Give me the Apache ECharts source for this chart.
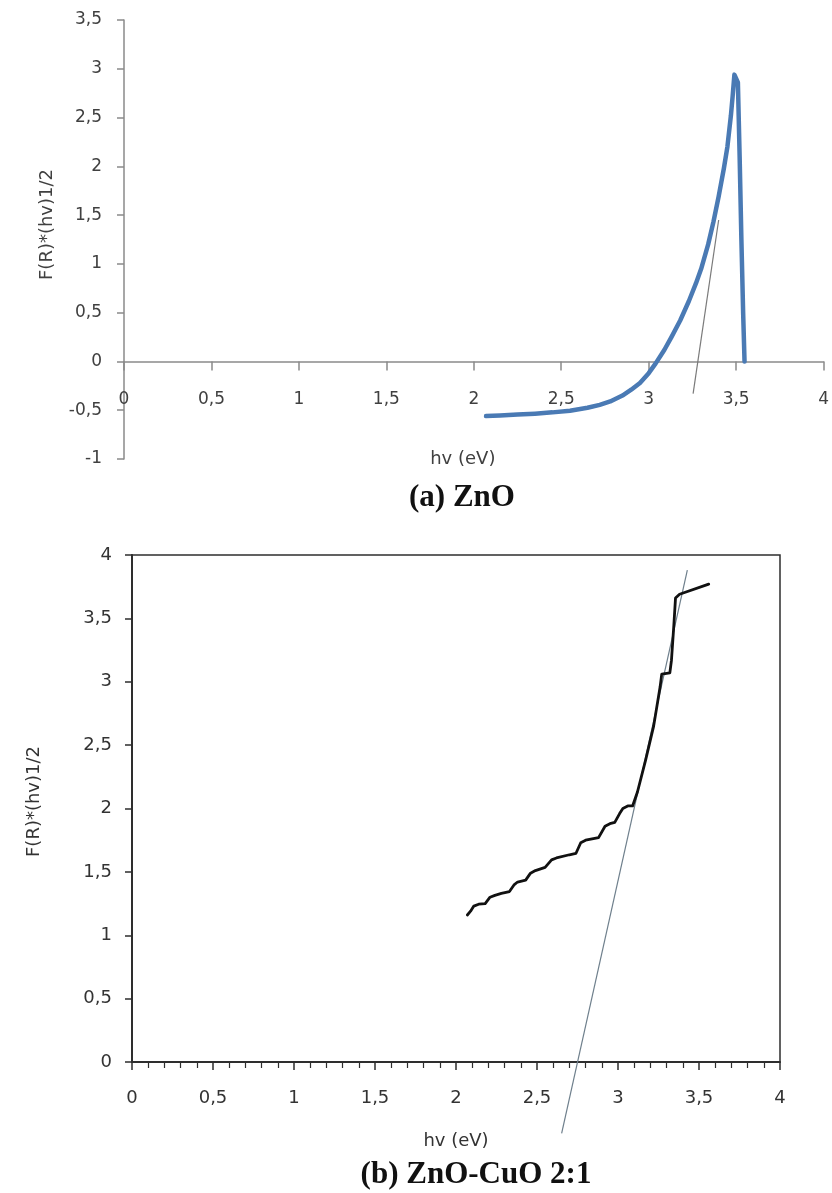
<!DOCTYPE html>
<html>
<head>
<meta charset="utf-8">
<script src="https://cdn.jsdelivr.net/npm/echarts@6.0.0/dist/echarts.min.js"></script>
<style>
html,body{margin:0;padding:0;background:#fff;}
#chart{width:832px;height:1193px;}
</style>
</head>
<body>
<div id="chart"></div>
<script>
// ---- Data: (a) ZnO ----
const znoX = [2.07, 2.15, 2.25, 2.35, 2.45, 2.55, 2.65, 2.72, 2.78, 2.85, 2.90, 2.95, 3.00, 3.04, 3.09, 3.13, 3.18, 3.23, 3.27, 3.30, 3.34, 3.37, 3.40, 3.43, 3.45, 3.47, 3.48, 3.49, 3.50, 3.51, 3.52, 3.53, 3.54, 3.548];
const znoY = [-0.56, -0.555, -0.545, -0.535, -0.522, -0.505, -0.475, -0.445, -0.41, -0.35, -0.29, -0.22, -0.12, -0.02, 0.12, 0.25, 0.42, 0.62, 0.80, 0.95, 1.20, 1.43, 1.69, 1.98, 2.20, 2.52, 2.72, 2.94, 2.92, 2.86, 2.10, 1.25, 0.50, 0.0];
const znoTangentX = [3.254, 3.40];
const znoTangentY = [-0.33, 1.45];

// ---- Data: (b) ZnO-CuO 2:1 ----
const cuX = [2.07, 2.09, 2.11, 2.14, 2.18, 2.21, 2.24, 2.28, 2.33, 2.36, 2.38, 2.43, 2.46, 2.49, 2.55, 2.59, 2.62, 2.70, 2.74, 2.77, 2.80, 2.88, 2.92, 2.95, 2.98, 3.01, 3.03, 3.06, 3.09, 3.12, 3.17, 3.22, 3.26, 3.27, 3.32, 3.33, 3.345, 3.355, 3.38, 3.56];
const cuY = [1.16, 1.19, 1.23, 1.245, 1.25, 1.30, 1.315, 1.33, 1.345, 1.40, 1.42, 1.435, 1.49, 1.51, 1.535, 1.595, 1.61, 1.635, 1.645, 1.73, 1.75, 1.77, 1.86, 1.88, 1.89, 1.96, 2.00, 2.02, 2.02, 2.13, 2.38, 2.65, 2.96, 3.06, 3.07, 3.17, 3.45, 3.66, 3.69, 3.77];
const cuTangentX = [2.652, 3.428];
const cuTangentY = [-0.563, 3.88];

// ---- Axis ticks ----
const xMin = 0, xMax = 4, xStep = 0.5;
const yTopMin = -1, yTopMax = 3.5, yStep = 0.5;
const yBotMin = 0, yBotMax = 4;

const xName = 'hv (eV)';
const yName = 'F(R)*(hv)1/2';
const titleA = '(a) ZnO';
const titleB = '(b) ZnO-CuO 2:1';

const pairs = (xs, ys) => xs.map((x, i) => [x, ys[i]]);
const comma = v => String(v).replace('.', ',');

const topAxisColor = '#8a8a8a';
const topText = '#404040';
const botAxisColor = '#2e2e2e';
const botText = '#333333';

const chart = echarts.init(document.getElementById('chart'), null, {renderer: 'canvas'});
chart.setOption({
  backgroundColor: '#ffffff',
  animation: false,
  grid: [
    {left: 124, top: 20, width: 704, height: 439, show: false},
    {left: 132, top: 555, width: 648, height: 507, show: true, borderColor: botAxisColor, borderWidth: 1.5, backgroundColor: 'transparent'}
  ],
  xAxis: [
    {
      gridIndex: 0, type: 'value', min: xMin, max: xMax, interval: xStep,
      axisLine: {show: true, onZero: true, lineStyle: {color: topAxisColor, width: 1.5}},
      axisTick: {show: true, length: 9, lineStyle: {color: topAxisColor, width: 1.5}},
      axisLabel: {margin: -68, formatter: comma, color: topText, fontSize: 17, fontFamily: 'DejaVu Sans'},
      splitLine: {show: false},
      name: xName, nameLocation: 'middle', nameGap: -9,
      nameTextStyle: {color: topText, fontSize: 18, fontFamily: 'DejaVu Sans', padding: [0, 22, 0, 0]}
    },
    {
      gridIndex: 1, type: 'value', min: xMin, max: xMax, interval: xStep,
      axisLine: {show: true, onZero: false, lineStyle: {color: botAxisColor, width: 2}},
      axisTick: {show: true, length: 8, lineStyle: {color: botAxisColor, width: 1.5}},
      minorTick: {show: true, splitNumber: 5, length: 6, lineStyle: {color: botAxisColor, width: 1.2}},
      axisLabel: {margin: 27, formatter: comma, color: botText, fontSize: 18, fontFamily: 'DejaVu Sans'},
      splitLine: {show: false},
      name: xName, nameLocation: 'middle', nameGap: 70,
      nameTextStyle: {color: botText, fontSize: 18, fontFamily: 'DejaVu Sans'}
    }
  ],
  yAxis: [
    {
      gridIndex: 0, type: 'value', min: yTopMin, max: yTopMax, interval: yStep,
      axisLine: {show: true, onZero: false, lineStyle: {color: topAxisColor, width: 1.5}},
      axisTick: {show: true, length: 7, lineStyle: {color: topAxisColor, width: 1.5}},
      axisLabel: {margin: 22, formatter: comma, color: topText, fontSize: 17, fontFamily: 'DejaVu Sans'},
      splitLine: {show: false},
      name: yName, nameLocation: 'middle', nameGap: 68, nameRotate: 90,
      nameTextStyle: {color: topText, fontSize: 18, fontFamily: 'DejaVu Sans', padding: [0, 0, 0, 30]}
    },
    {
      gridIndex: 1, type: 'value', min: yBotMin, max: yBotMax, interval: yStep,
      axisLine: {show: true, onZero: false, lineStyle: {color: botAxisColor, width: 2}},
      axisTick: {show: true, length: 7, lineStyle: {color: botAxisColor, width: 1.5}},
      axisLabel: {margin: 20, formatter: comma, color: botText, fontSize: 18, fontFamily: 'DejaVu Sans'},
      splitLine: {show: false},
      name: yName, nameLocation: 'middle', nameGap: 89, nameRotate: 90,
      nameTextStyle: {color: botText, fontSize: 18, fontFamily: 'DejaVu Sans', padding: [0, 0, 0, 14]}
    }
  ],
  series: [
    {
      type: 'line', xAxisIndex: 0, yAxisIndex: 0, showSymbol: false, symbol: 'none',
      data: pairs(znoTangentX, znoTangentY),
      lineStyle: {color: '#7a7a7a', width: 1.2}, z: 1
    },
    {
      type: 'line', xAxisIndex: 0, yAxisIndex: 0, showSymbol: false, symbol: 'none',
      data: pairs(znoX, znoY),
      lineStyle: {color: '#4a7ab4', width: 4.5, join: 'round', cap: 'round'}, z: 2
    },
    {
      type: 'line', xAxisIndex: 1, yAxisIndex: 1, showSymbol: false, symbol: 'none',
      data: pairs(cuTangentX, cuTangentY), clip: false,
      lineStyle: {color: '#6e7f8c', width: 1.2}, z: 1
    },
    {
      type: 'line', xAxisIndex: 1, yAxisIndex: 1, showSymbol: false, symbol: 'none',
      data: pairs(cuX, cuY),
      lineStyle: {color: '#111111', width: 2.8, join: 'round', cap: 'round'}, z: 2
    }
  ],
  graphic: [
    {type: 'text', x: 462, y: 498, style: {text: titleA, fill: '#111', font: 'bold 31px "Liberation Serif"', align: 'center', verticalAlign: 'middle'}},
    {type: 'text', x: 476, y: 1175, style: {text: titleB, fill: '#111', font: 'bold 31px "Liberation Serif"', align: 'center', verticalAlign: 'middle'}}
  ]
});
</script>
</body>
</html>
